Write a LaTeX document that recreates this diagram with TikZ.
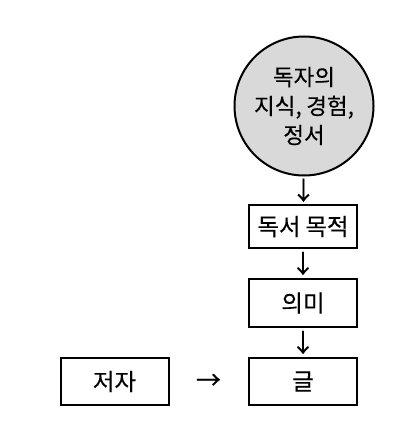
\documentclass[tikz,border=0pt]{standalone}
\usepackage{fontspec}
\usetikzlibrary{calc}
\setmainfont{Noto Sans CJK KR}[FakeBold=0.3,WordSpace=0.9]
\begin{document}
\begin{tikzpicture}[x=1pt,y=-1pt,
  box/.style={draw=black,line width=2pt,minimum width=108pt,minimum height=46pt,inner sep=0pt,font=\fontsize{23.5}{26}\selectfont},
  circ/.style={circle,draw=black,line width=2pt,fill=gray!30,minimum size=139pt,inner sep=0pt,align=center,font=\fontsize{22.5}{29}\selectfont},
  arrowglyph/.style={inner sep=0pt,font=\fontsize{25}{26}\selectfont}]
\useasboundingbox (0,0) rectangle (415,438);
\node[circ] (reader) at (304,106) {독자의\\지식, 경험,\\정서};
\node[box,minimum height=43pt] (purpose) at (303,226.5) {독서 목적};
\node[box,minimum height=48pt] (meaning) at (303,303) {의미};
\node[box,minimum height=47pt] (text) at (303,381.5) {글};
\node[box,minimum height=47pt] (author) at (114.5,381.5) {저자};
\node[arrowglyph] (a1) at ($(reader.south)!0.5!(purpose.north)$) {↓};
\node[arrowglyph] (a2) at ($(purpose.south)!0.5!(meaning.north)$) {↓};
\node[arrowglyph] (a3) at ($(meaning.south)!0.5!(text.north)$) {↓};
\node[arrowglyph] (a4) at (208.5,381.5) {→};
\end{tikzpicture}
\end{document}
